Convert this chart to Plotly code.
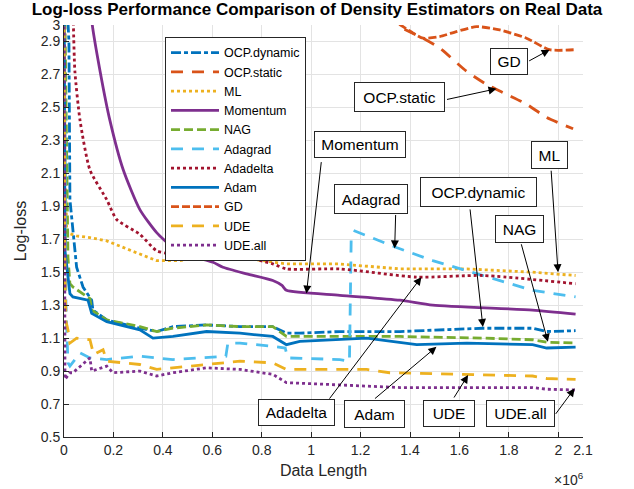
import plotly.graph_objects as go

# x values are in units of 10^6 samples
ocp_dynamic_x = [0, 0.020, 0.024, 0.036, 0.051, 0.077, 0.105, 0.112, 0.117, 0.173, 0.307, 0.375, 0.441, 0.577, 0.712, 0.845, 0.900, 0.954, 1.116, 1.359, 1.694, 1.896, 1.953, 2.07]
ocp_dynamic_y = [3.5, 2.9, 1.94, 1.74, 1.53, 1.41, 1.35, 1.33, 1.27, 1.21, 1.16, 1.14, 1.17, 1.18, 1.17, 1.17, 1.13, 1.13, 1.14, 1.14, 1.16, 1.16, 1.14, 1.145]

ocp_static_x = [0, 0.5, 1.0, 1.30, 1.371, 1.44, 1.52, 1.628, 1.709, 1.79, 1.871, 1.952, 2.06]
ocp_static_y = [6.0, 4.6, 3.5, 3.08, 2.98, 2.93, 2.86, 2.72, 2.64, 2.58, 2.52, 2.44, 2.37]

ml_x = [0, 0.004, 0.011, 0.051, 0.105, 0.173, 0.307, 0.375, 0.469, 0.577, 0.712, 0.845, 0.900, 1.116, 1.359, 1.630, 1.896, 2.07]
ml_y = [3.5, 2.2, 1.74, 1.72, 1.71, 1.69, 1.61, 1.57, 1.57, 1.60, 1.59, 1.56, 1.55, 1.55, 1.52, 1.52, 1.50, 1.48]

momentum_x = [0, 0.06, 0.112, 0.146, 0.186, 0.240, 0.307, 0.375, 0.441, 0.510, 0.603, 0.643, 0.739, 0.845, 0.882, 0.900, 1.116, 1.359, 1.492, 1.896, 2.07]
momentum_y = [8.0, 4.5, 3.03, 2.72, 2.42, 2.12, 1.88, 1.74, 1.65, 1.60, 1.56, 1.53, 1.49, 1.45, 1.42, 1.39, 1.36, 1.33, 1.30, 1.27, 1.245]

nag_x = [0, 0.012, 0.016, 0.024, 0.036, 0.105, 0.112, 0.173, 0.307, 0.375, 0.441, 0.577, 0.712, 0.845, 0.900, 1.116, 1.359, 1.694, 1.896, 1.953, 2.07]
nag_y = [3.5, 1.8, 1.59, 1.43, 1.41, 1.34, 1.27, 1.21, 1.17, 1.14, 1.16, 1.18, 1.17, 1.17, 1.11, 1.11, 1.11, 1.10, 1.09, 1.075, 1.07]

adagrad_x = [0, 0.008, 0.016, 0.024, 0.065, 0.105, 0.173, 0.307, 0.441, 0.577, 0.655, 0.663, 0.712, 0.845, 0.895, 0.905, 1.116, 1.155, 1.162, 1.177, 1.345, 1.492, 1.630, 1.763, 1.896, 2.07]
adagrad_y = [3.5, 1.3, 0.95, 0.93, 1.01, 0.98, 0.97, 0.99, 0.97, 0.98, 0.99, 1.07, 1.07, 1.05, 1.04, 0.98, 0.97, 0.96, 1.70, 1.75, 1.65, 1.57, 1.51, 1.45, 1.39, 1.35]

adadelta_x = [0, 0.03, 0.038, 0.044, 0.065, 0.105, 0.173, 0.213, 0.307, 0.375, 0.441, 0.577, 0.712, 0.845, 0.900, 1.116, 1.427, 1.694, 2.07]
adadelta_y = [6.0, 3.4, 3.0, 2.72, 2.42, 2.12, 1.94, 1.82, 1.73, 1.63, 1.61, 1.61, 1.60, 1.55, 1.52, 1.52, 1.47, 1.48, 1.43]

adam_x = [0, 0.004, 0.024, 0.036, 0.097, 0.112, 0.173, 0.307, 0.360, 0.441, 0.577, 0.712, 0.845, 0.900, 0.954, 1.088, 1.225, 1.427, 1.630, 1.896, 1.953, 2.07]
adam_y = [3.5, 1.63, 1.37, 1.35, 1.33, 1.25, 1.20, 1.15, 1.10, 1.11, 1.14, 1.13, 1.11, 1.06, 1.08, 1.09, 1.10, 1.06, 1.07, 1.06, 1.04, 1.045]

gd_x = [0, 0.5, 1.0, 1.30, 1.372, 1.413, 1.453, 1.520, 1.588, 1.669, 1.763, 1.871, 1.965, 2.066]
gd_y = [6.0, 4.4, 3.5, 3.06, 2.99, 2.95, 2.92, 2.93, 2.96, 2.99, 2.97, 2.92, 2.85, 2.85]

ude_x = [0, 0.004, 0.008, 0.016, 0.024, 0.051, 0.105, 0.120, 0.132, 0.158, 0.173, 0.307, 0.375, 0.441, 0.577, 0.712, 0.845, 0.900, 1.116, 1.225, 1.318, 1.630, 1.896, 1.953, 2.07]
ude_y = [3.5, 1.5, 1.2, 1.15, 1.07, 1.10, 1.09, 1.00, 1.01, 1.03, 0.96, 0.94, 0.91, 0.92, 0.94, 0.96, 0.95, 0.91, 0.91, 0.91, 0.89, 0.88, 0.87, 0.855, 0.85]

ude_all_x = [0, 0.004, 0.024, 0.036, 0.105, 0.112, 0.173, 0.198, 0.307, 0.375, 0.441, 0.577, 0.712, 0.845, 0.900, 1.116, 1.359, 1.630, 1.896, 1.953, 2.07]
ude_all_y = [3.5, 0.85, 0.89, 0.89, 0.98, 0.90, 0.93, 0.89, 0.90, 0.87, 0.89, 0.92, 0.91, 0.88, 0.83, 0.815, 0.80, 0.80, 0.80, 0.79, 0.785]

x_tick_vals = [0, 0.2, 0.4, 0.6, 0.8, 1.0, 1.2, 1.4, 1.6, 1.8, 2.0, 2.1]
x_tick_text = ["0", "0.2", "0.4", "0.6", "0.8", "1", "1.2", "1.4", "1.6", "1.8", "2", "2.1"]
y_tick_vals = [0.5, 0.7, 0.9, 1.1, 1.3, 1.5, 1.7, 1.9, 2.1, 2.3, 2.5, 2.7, 2.9, 3.0]
y_tick_text = ["0.5", "0.7", "0.9", "1.1", "1.3", "1.5", "1.7", "1.9", "2.1", "2.3", "2.5", "2.7", "2.9", "3"]

series = [
    ("OCP.dynamic", ocp_dynamic_x, ocp_dynamic_y, "#0072BD", "10px,3px,4px,3px", "linear"),
    ("OCP.static", ocp_static_x, ocp_static_y, "#D95319", "12px,9px", "spline"),
    ("ML", ml_x, ml_y, "#EDB120", "3px,3px", "linear"),
    ("Momentum", momentum_x, momentum_y, "#7E2F8E", "solid", "spline"),
    ("NAG", nag_x, nag_y, "#77AC30", "9px,4px", "linear"),
    ("Adagrad", adagrad_x, adagrad_y, "#4DBEEE", "12px,9px", "linear"),
    ("Adadelta", adadelta_x, adadelta_y, "#A2142F", "3px,3px", "spline"),
    ("Adam", adam_x, adam_y, "#0072BD", "solid", "linear"),
    ("GD", gd_x, gd_y, "#D95319", "8px,3px", "spline"),
    ("UDE", ude_x, ude_y, "#EDB120", "12px,9px", "linear"),
    ("UDE.all", ude_all_x, ude_all_y, "#7E2F8E", "3px,3px", "linear"),
]

# label text, arrow tip (data), arrow tail offset (px), box centre (data), box size (px)
labels = [
    ("GD", 1.965, 2.85, -22, 12, 1.799, 2.777, 38, 27),
    ("OCP.static", 1.750, 2.613, -51, 11, 1.359, 2.562, 91, 30),
    ("Momentum", 0.981, 1.370, 15, -133, 1.199, 2.272, 92, 27),
    ("Adagrad", 1.338, 1.644, 1, -35, 1.243, 1.947, 74, 30),
    ("OCP.dynamic", 1.695, 1.168, -13, -119, 1.679, 1.984, 117, 30),
    ("NAG", 1.958, 1.078, -27, -99, 1.845, 1.764, 49, 28),
    ("ML", 1.999, 1.500, -7, -103, 1.966, 2.214, 37, 28),
    ("Adadelta", 1.446, 1.470, -93, 123, 0.942, 0.647, 77, 27),
    ("Adam", 1.507, 1.047, -63, 53, 1.258, 0.641, 61, 28),
    ("UDE", 1.635, 0.876, -15, 24, 1.558, 0.645, 52, 27),
    ("UDE.all", 2.066, 0.795, -20, 27, 1.848, 0.644, 69, 27),
]

fig = go.Figure()
for name, xs, ys, color, dash, shape in series:
    line = dict(color=color, width=2.8, dash=dash, shape=shape)
    if shape == "spline":
        line["smoothing"] = 0.6
    fig.add_trace(go.Scatter(x=xs, y=ys, mode="lines", name=name, line=line))

annotations = []
for text, tx, ty, ax, ay, bx, by, bw, bh in labels:
    annotations.append(dict(x=tx, y=ty, xref="x", yref="y", text="", showarrow=True,
                            ax=ax, ay=ay, arrowhead=2, arrowsize=1.6, arrowwidth=1,
                            arrowcolor="black"))
    annotations.append(dict(x=bx, y=by, xref="x", yref="y", text=text, showarrow=False,
                            font=dict(family="Arial", size=15.5, color="black"),
                            bgcolor="white", bordercolor="#262626", borderwidth=1,
                            borderpad=0, width=bw - 2, height=bh - 2,
                            xanchor="center", yanchor="middle"))
annotations.append(dict(x=1.005, y=-0.102, xref="paper", yref="paper",
                        text="×10<sup>6</sup>", showarrow=False, xanchor="right",
                        yanchor="middle", font=dict(family="Arial", size=14, color="#262626")))

axis_common = dict(showgrid=True, gridcolor="#e3e3e3", gridwidth=1, showline=True,
                   linecolor="#262626", linewidth=1, ticks="inside", ticklen=5,
                   tickcolor="#262626", zeroline=False,
                   tickfont=dict(family="Arial", size=14, color="#262626"))

fig.update_layout(
    width=634, height=489,
    margin=dict(l=64, r=51, t=25, b=52),
    paper_bgcolor="white", plot_bgcolor="white",
    title=dict(text="<b>Log-loss Performance Comparison of Density Estimators on Real Data</b>",
               x=0.5, xanchor="center", y=0.981, yanchor="middle",
               font=dict(family="Arial", size=17, color="black")),
    xaxis=dict(range=[0, 2.1], tickvals=x_tick_vals, ticktext=x_tick_text,
               title=dict(text="Data Length", font=dict(family="Arial", size=16, color="#262626"), standoff=8),
               **axis_common),
    yaxis=dict(range=[0.5, 3.0], tickvals=y_tick_vals, ticktext=y_tick_text,
               title=dict(text="Log-loss", font=dict(family="Arial", size=16, color="#262626"), standoff=10),
               **axis_common),
    legend=dict(x=0.1946, y=0.971, xanchor="left", yanchor="top", bgcolor="white",
                bordercolor="#262626", borderwidth=1, itemwidth=48,
                font=dict(family="Arial", size=12.5, color="black")),
    annotations=annotations,
    showlegend=True,
)

fig.write_html("out.html", config={"displayModeBar": False},
               post_script="document.body.style.margin='0px';")
